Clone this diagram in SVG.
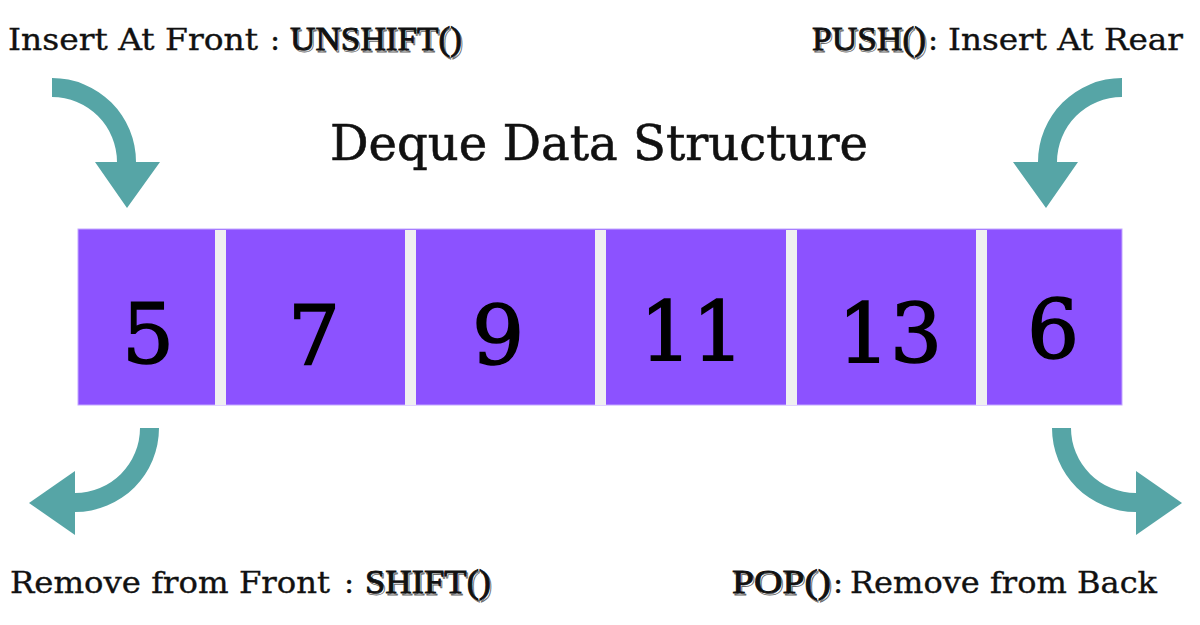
<svg xmlns="http://www.w3.org/2000/svg" width="1200" height="625" viewBox="0 0 1200 625">
<style>
.lbl{font-family:"DejaVu Serif","Liberation Serif",serif;font-size:30px;fill:#111;stroke:#111;stroke-width:0.35}
.fn{font-family:"Liberation Serif","DejaVu Serif",serif;font-size:34px;fill:#111;stroke:#111;stroke-width:0.9}
.fns{font-family:"Liberation Serif","DejaVu Serif",serif;font-size:34px;fill:none;stroke:#666;stroke-width:0.8}
.title{font-family:"DejaVu Serif","Liberation Serif",serif;font-size:48px;fill:#111;stroke:#111;stroke-width:0.6}
.num{font-family:"DejaVu Serif","Liberation Serif",serif;font-size:82px;fill:#000;stroke:#000;stroke-width:1.6;text-anchor:middle}
.cell{fill:#8c52ff}
.sep{fill:#efeff1}
.arrow{fill:#56a5a6}
</style>
<rect width="1200" height="625" fill="#ffffff"/>
<g id="title"><text class="title" x="330" y="160" textLength="538" lengthAdjust="spacingAndGlyphs">Deque Data Structure</text></g>
<g id="deque">
<rect x="78" y="229" width="1044" height="176" class="cell" stroke="#c4a8ff" stroke-width="1"/>
<rect class="sep" x="215" y="230" width="11" height="175"/>
<rect class="sep" x="405" y="230" width="11" height="175"/>
<rect class="sep" x="595" y="230" width="11" height="175"/>
<rect class="sep" x="786" y="230" width="11" height="175"/>
<rect class="sep" x="976" y="230" width="11" height="175"/>
</g>
<g id="cell-5"><text class="num" x="148" y="363">5</text></g>
<g id="cell-7"><text class="num" x="314" y="365">7</text></g>
<g id="cell-9"><text class="num" x="498" y="365">9</text></g>
<g id="cell-11"><text class="num" x="692" y="361">11</text></g>
<g id="cell-13"><text class="num" x="890" y="363">13</text></g>
<g id="cell-6"><text class="num" x="1053" y="359">6</text></g>
<g id="connectors">
<path class="arrow" d="M52,78 A84,84 0 0 1 136,162 L160,162 L127,208 L95,162 L117,162 A65,65 0 0 0 52,97 Z"/>
<path class="arrow" d="M1122,78 A84,84 0 0 0 1038,162 L1013,162 L1046,208 L1078,162 L1057,162 A65,65 0 0 1 1122,97 Z"/>
<path class="arrow" d="M159,428 A84,84 0 0 1 75,512 L75,535 L29,503 L75,471 L75,493 A65,65 0 0 0 140,428 Z"/>
<path class="arrow" d="M1052,428 A84,84 0 0 0 1136,512 L1136,535 L1182,503 L1136,471 L1136,493 A65,65 0 0 1 1071,428 Z"/>
</g>
<g id="label-unshift">
<text class="lbl" x="8" y="50" textLength="250" lengthAdjust="spacingAndGlyphs">Insert At Front</text>
<text class="lbl" x="270" y="50">:</text>
<text class="fns" x="291.5" y="51.5" textLength="172" lengthAdjust="spacingAndGlyphs">UNSHIFT()</text>
<text class="fn" x="290" y="50" textLength="172" lengthAdjust="spacingAndGlyphs">UNSHIFT()</text>
</g>
<g id="label-push">
<text class="fns" x="813.5" y="51.5" textLength="114" lengthAdjust="spacingAndGlyphs">PUSH()</text>
<text class="fn" x="812" y="50" textLength="114" lengthAdjust="spacingAndGlyphs">PUSH()</text>
<text class="lbl" x="928" y="50">:</text>
<text class="lbl" x="948" y="50" textLength="235" lengthAdjust="spacingAndGlyphs">Insert At Rear</text>
</g>
<g id="label-shift">
<text class="lbl" x="10" y="593" textLength="320" lengthAdjust="spacingAndGlyphs">Remove from Front</text>
<text class="lbl" x="344" y="593">:</text>
<text class="fns" x="366.5" y="594.5" textLength="126" lengthAdjust="spacingAndGlyphs">SHIFT()</text>
<text class="fn" x="365" y="593" textLength="126" lengthAdjust="spacingAndGlyphs">SHIFT()</text>
</g>
<g id="label-pop">
<text class="fns" x="733.5" y="594.5" textLength="99" lengthAdjust="spacingAndGlyphs">POP()</text>
<text class="fn" x="732" y="593" textLength="99" lengthAdjust="spacingAndGlyphs">POP()</text>
<text class="lbl" x="833" y="593">:</text>
<text class="lbl" x="850" y="593" textLength="307" lengthAdjust="spacingAndGlyphs">Remove from Back</text>
</g>
</svg>
